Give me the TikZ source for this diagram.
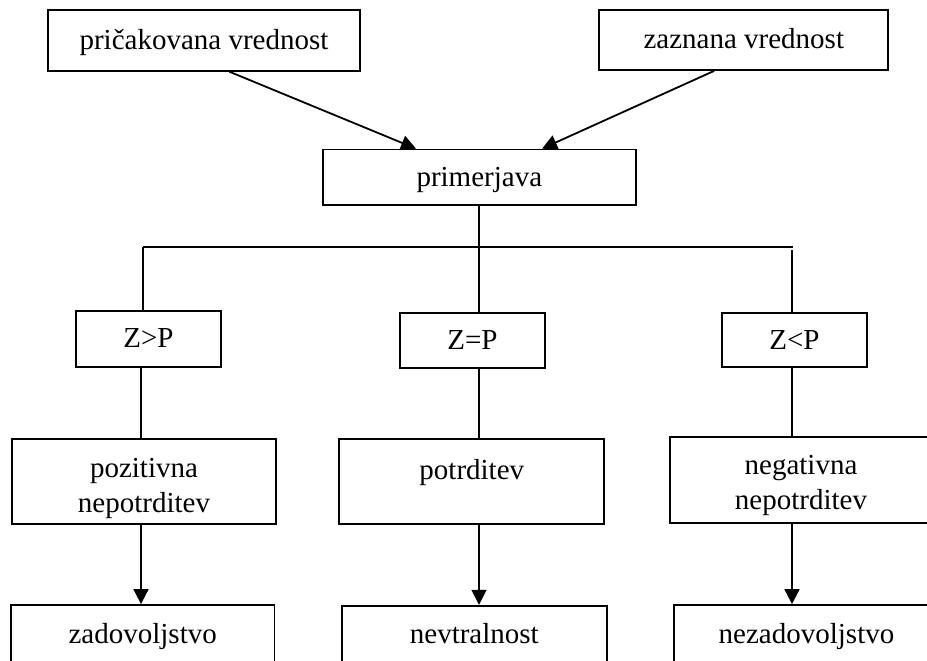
\documentclass[tikz,border=0pt]{standalone}
\usepackage{fontspec}
\setmainfont{Liberation Serif}
\usetikzlibrary{arrows.meta}
\tikzset{
  box/.style={draw, line width=1.8pt, rectangle, inner sep=0pt, align=center,
    font=\fontsize{29}{35}\selectfont},
  onebox/.style={box, text height=24pt, text depth=6pt},
  conn/.style={line width=1.8pt},
  arr/.style={line width=1.8pt, -{Triangle[length=15pt,width=15pt]}}
}
\begin{document}
\begin{tikzpicture}[x=1pt,y=-1pt]
\clip (0,0) rectangle (927,661);
\fill[white] (0,0) rectangle (927,661);
% top row
\node[onebox, minimum width=312pt, minimum height=61pt] (pric) at (204,40.3) {pričakovana vrednost};
\node[onebox, minimum width=289pt, minimum height=60pt] (zaz) at (743.8,40) {zaznana vrednost};
\node[onebox, minimum width=312.7pt, minimum height=55.5pt] (prim) at (479.3,177.3) {primerjava};
% comparison row
\node[onebox, minimum width=144.7pt, minimum height=55.7pt] (zgt) at (148.4,338.9) {Z>P};
\node[onebox, minimum width=145pt, minimum height=55pt] (zeq) at (472.5,340.5) {Z=P};
\node[onebox, minimum width=144.4pt, minimum height=53.7pt] (zlt) at (794.5,340.2) {Z<P};
% confirmation row
\node[box, minimum width=264pt, minimum height=85.3pt] (poz) at (144,481.7) {\rule{0pt}{32pt}pozitivna\\nepotrditev};
\node[box, minimum width=265pt, minimum height=85pt] (pot) at (471.8,481.5) {\rule{0pt}{30pt}potrditev\\\mbox{}};
\node[box, minimum width=262pt, minimum height=86.3pt] (neg) at (801,480.2) {\rule{0pt}{30pt}negativna\\nepotrditev};
% result row
\node[onebox, minimum width=263.5pt, minimum height=58pt] (zad) at (142.7,634) {zadovoljstvo};
\node[onebox, minimum width=264.7pt, minimum height=58pt] (nev) at (474.3,634.7) {nevtralnost};
\node[onebox, minimum width=265pt, minimum height=58pt] (nez) at (806.5,634) {nezadovoljstvo};
% coordinates
\coordinate (jc) at (479.3,247);
\coordinate (jl) at (143,247);
\coordinate (jr) at (793,247);
\coordinate (jr2) at (792,250);
\coordinate (xl) at (141,0);
\coordinate (xm) at (479,0);
\coordinate (xr) at (792,0);
% arrows into comparison
\draw[arr] ([xshift=182.3pt]pric.south west) -- ([xshift=94pt]prim.north west);
\draw[arr] ([xshift=115.7pt]zaz.south west) -- ([xshift=220pt]prim.north west);
% branching
\draw[conn] (prim.south) -- (jc);
\draw[conn] (jl) -- (jr);
\draw[conn] (jl) -- (jl |- zgt.north);
\draw[conn] (jc) -- (jc |- zeq.north);
\draw[conn] (jr2) -- (jr2 |- zlt.north);
% down lines
\draw[conn] (zgt.south -| xl) -- (poz.north -| xl);
\draw[conn] (zeq.south -| xm) -- (pot.north -| xm);
\draw[conn] (zlt.south -| xr) -- (neg.north -| xr);
% result arrows
\draw[arr] (poz.south -| xl) -- (zad.north -| xl);
\draw[arr] (pot.south -| xm) -- (nev.north -| xm);
\draw[arr] (neg.south -| xr) -- (nez.north -| xr);
\end{tikzpicture}
\end{document}
